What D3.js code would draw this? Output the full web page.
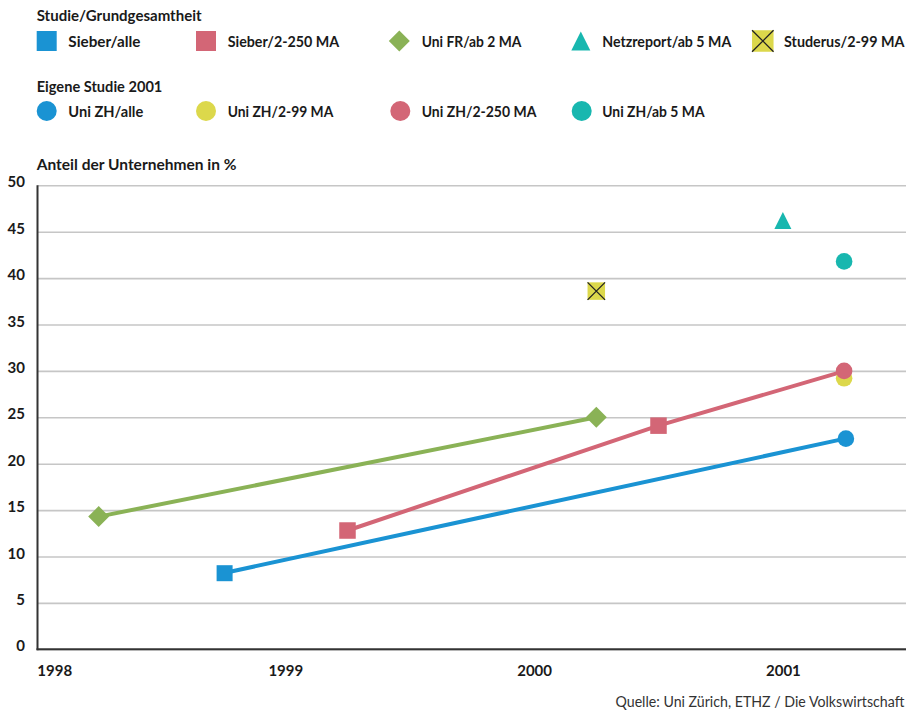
<!DOCTYPE html>
<html><head><meta charset="utf-8">
<script src="https://cdn.jsdelivr.net/npm/d3@7"></script>
<style>
html,body{margin:0;padding:0;background:#fff;}
svg{display:block;font-family:Lato,"Open Sans",sans-serif;}
</style></head>
<body>
<script>
// ---- data ----
const yTicks = [0, 5, 10, 15, 20, 25, 30, 35, 40, 45, 50];
const xTickYears = [1998, 1999, 2000, 2001];

const sieberAlleX = [1998.75];          const sieberAlleY = [8.2];
const sieber250X = [1999.25, 2000.5];   const sieber250Y = [12.8, 24.1];
const uniFRX = [1998.25, 2000.25];      const uniFRY = [14.3, 25.0];
const netzreportX = [2001.0];           const netzreportY = [46.0];
const studerusX = [2000.25];            const studerusY = [38.6];
const uniZHAlleX = [2001.25];           const uniZHAlleY = [22.7];
const uniZH99X = [2001.25];             const uniZH99Y = [29.2];
const uniZH250X = [2001.25];            const uniZH250Y = [30.0];
const uniZH5X = [2001.25];              const uniZH5Y = [41.8];

const legendTitle1 = "Studie/Grundgesamtheit";
const legendTitle2 = "Eigene Studie 2001";
const legend1Labels = ["Sieber/alle", "Sieber/2-250 MA", "Uni FR/ab 2 MA", "Netzreport/ab 5 MA", "Studerus/2-99 MA"];
const legend2Labels = ["Uni ZH/alle", "Uni ZH/2-99 MA", "Uni ZH/2-250 MA", "Uni ZH/ab 5 MA"];
const yTitle = "Anteil der Unternehmen in %";
const sourceText = "Quelle: Uni Zürich, ETHZ / Die Volkswirtschaft";

// ---- style ----
const C = {blue:"#1a93d3", pink:"#d36676", green:"#8ab256", teal:"#18b7af", yellow:"#dcd84b"};
const legend1W = [72.3, 111.7, 99.7, 129, 120.5];
const legend2W = [75, 105.7, 114.7, 102.3];

const W = 906, H = 711;
const svg = d3.select("body").append("svg").attr("width", W).attr("height", H);

// text scaled horizontally to a target width (condensed look)
function condText(parent, str, x0, y0, width, size, weight, fill, anchor) {
  const g = parent.append("g");
  const t = g.append("text").text(str).attr("x", 0).attr("y", 0)
    .attr("font-size", size).attr("font-weight", weight).attr("fill", fill);
  const nat = t.node().getComputedTextLength();
  const sx = width / nat;
  const left = anchor === "end" ? x0 - nat * sx : x0;
  g.attr("transform", `translate(${left},${y0}) scale(${sx},1)`);
  return g;
}

const x = d3.scaleLinear().domain([1998, 2001.5]).range([36.5, 907.3]);
const y = d3.scaleLinear().domain([0, 50]).range([649.3, 185.3]);
const axisX = 37.5, right = 906;

// gridlines + y labels via axis
const yAxis = d3.axisLeft(y).tickValues(yTicks).tickSize(-(right - axisX)).tickPadding(12.5);
const gy = svg.append("g").attr("transform", `translate(${axisX},0)`).call(yAxis);
gy.select(".domain").remove();
gy.selectAll(".tick line").attr("stroke", "#c6c6c6").attr("stroke-width", 1.6);
gy.selectAll(".tick text").attr("dy", null).attr("y", 1.5)
  .attr("fill", "#1a1a1a").attr("font-size", 15).attr("font-weight", 700)
  .attr("font-family", "Lato");

// axis lines
svg.append("line").attr("x1", axisX).attr("x2", axisX).attr("y1", y(50)).attr("y2", y(0) + 1)
  .attr("stroke", "#333").attr("stroke-width", 2);
svg.append("line").attr("x1", axisX - 1).attr("x2", right).attr("y1", y(0)).attr("y2", y(0))
  .attr("stroke", "#333").attr("stroke-width", 2);

// x labels
const xAxis = d3.axisBottom(x).tickValues(xTickYears).tickFormat(d3.format("d")).tickSize(0).tickPadding(0);
const gx = svg.append("g").attr("transform", `translate(0,${y(0)})`).call(xAxis);
gx.select(".domain").remove();
gx.selectAll(".tick text").attr("dy", null).attr("y", 26.5)
  .attr("fill", "#1a1a1a").attr("font-size", 15).attr("font-weight", 700)
  .attr("font-family", "Lato")
  .attr("text-anchor", d => d === 1998 ? "start" : "middle")
  .attr("x", d => d === 1998 ? 0.3 : 0);

// y title
condText(svg, yTitle, 36.7, 170, 200, 15, 700, "#1a1a1a");

// ---- lines ----
const lineGen = d3.line().x(d => x(d[0])).y(d => y(d[1]));
const zip = (xs, ys) => xs.map((v, i) => [v, ys[i]]);
const blueLine = zip(sieberAlleX, sieberAlleY).concat(zip(uniZHAlleX, uniZHAlleY));
const pinkLine = zip(sieber250X, sieber250Y).concat(zip(uniZH250X, uniZH250Y));
const greenLine = zip(uniFRX, uniFRY);
[[greenLine, C.green], [pinkLine, C.pink], [blueLine, C.blue]].forEach(([pts, col]) => {
  svg.append("path").attr("d", lineGen(pts)).attr("fill", "none").attr("stroke", col)
    .attr("stroke-width", 4).attr("stroke-linejoin", "round");
});

// ---- markers ----
function square(g, cx, cy, s, col) {
  g.append("rect").attr("x", cx - s / 2).attr("y", cy - s / 2).attr("width", s).attr("height", s).attr("fill", col);
}
function diamond(g, cx, cy, s, col) {
  const r = s / 2;
  g.append("path").attr("d", `M${cx},${cy - r}L${cx + r},${cy}L${cx},${cy + r}L${cx - r},${cy}Z`).attr("fill", col);
}
function triangle(g, cx, cy, w, h, col) {
  g.append("path").attr("d", `M${cx},${cy - h / 2}L${cx + w / 2},${cy + h / 2}L${cx - w / 2},${cy + h / 2}Z`).attr("fill", col);
}
function xbox(g, cx, cy, s, col) {
  square(g, cx, cy, s, col);
  const r = s / 2;
  g.append("path").attr("d", `M${cx - r},${cy - r}L${cx + r},${cy + r}M${cx + r},${cy - r}L${cx - r},${cy + r}`)
    .attr("stroke", "#222").attr("stroke-width", 1.3).attr("fill", "none");
}
function circle(g, cx, cy, r, col) {
  g.append("circle").attr("cx", cx).attr("cy", cy).attr("r", r).attr("fill", col);
}

const m = svg.append("g");
zip(uniFRX, uniFRY).forEach(d => diamond(m, x(d[0]), y(d[1]), 21, C.green));
zip(sieberAlleX, sieberAlleY).forEach(d => square(m, x(d[0]) + 1.5, y(d[1]), 16, C.blue));
zip(sieber250X, sieber250Y).forEach(d => square(m, x(d[0]), y(d[1]), 16.5, C.pink));
zip(netzreportX, netzreportY).forEach(d => triangle(m, x(d[0]), y(d[1]) - 2, 17, 17, C.teal));
zip(studerusX, studerusY).forEach(d => xbox(m, x(d[0]), y(d[1]), 17.5, C.yellow));
zip(uniZH99X, uniZH99Y).forEach(d => circle(m, x(d[0]) - 1, y(d[1]), 8.3, C.yellow));
zip(uniZH250X, uniZH250Y).forEach(d => circle(m, x(d[0]) - 1, y(d[1]), 8.3, C.pink));
zip(uniZH5X, uniZH5Y).forEach(d => circle(m, x(d[0]) - 1, y(d[1]), 8.3, C.teal));
zip(uniZHAlleX, uniZHAlleY).forEach(d => circle(m, x(d[0]) + 0.8, y(d[1]), 8.3, C.blue));

// ---- legend ----
const leg = svg.append("g");
condText(leg, legendTitle1, 36.7, 20.7, 165, 14.5, 700, "#1a1a1a");
condText(leg, legendTitle2, 36.7, 91.5, 125.7, 14.5, 700, "#1a1a1a");

const symX = [46.7, 206, 399.3, 580.8, 762.8];
const txtX = [68.3, 227.7, 421.7, 602.3, 784];
const row1y = 41, row2y = 111;
square(leg, symX[0], row1y, 20, C.blue);
square(leg, symX[1], row1y, 20, C.pink);
diamond(leg, symX[2], row1y, 21, C.green);
triangle(leg, symX[3], row1y, 19, 19, C.teal);
xbox(leg, symX[4], row1y, 21.5, C.yellow);
legend1Labels.forEach((t, i) => condText(leg, t, txtX[i], row1y + 5.8, legend1W[i], 16, 700, "#1a1a1a"));

const l2cols = [C.blue, C.yellow, C.pink, C.teal];
const l2symX = [46.7, 206, 400.3, 581.7];
l2cols.forEach((c, i) => circle(leg, l2symX[i], row2y, 10, c));
legend2Labels.forEach((t, i) => condText(leg, t, txtX[i], row2y + 5.8, legend2W[i], 16, 700, "#1a1a1a"));

// source
condText(svg, sourceText, 904.5, 706.5, 289, 15.5, 400, "#333", "end");
</script>
</body></html>
